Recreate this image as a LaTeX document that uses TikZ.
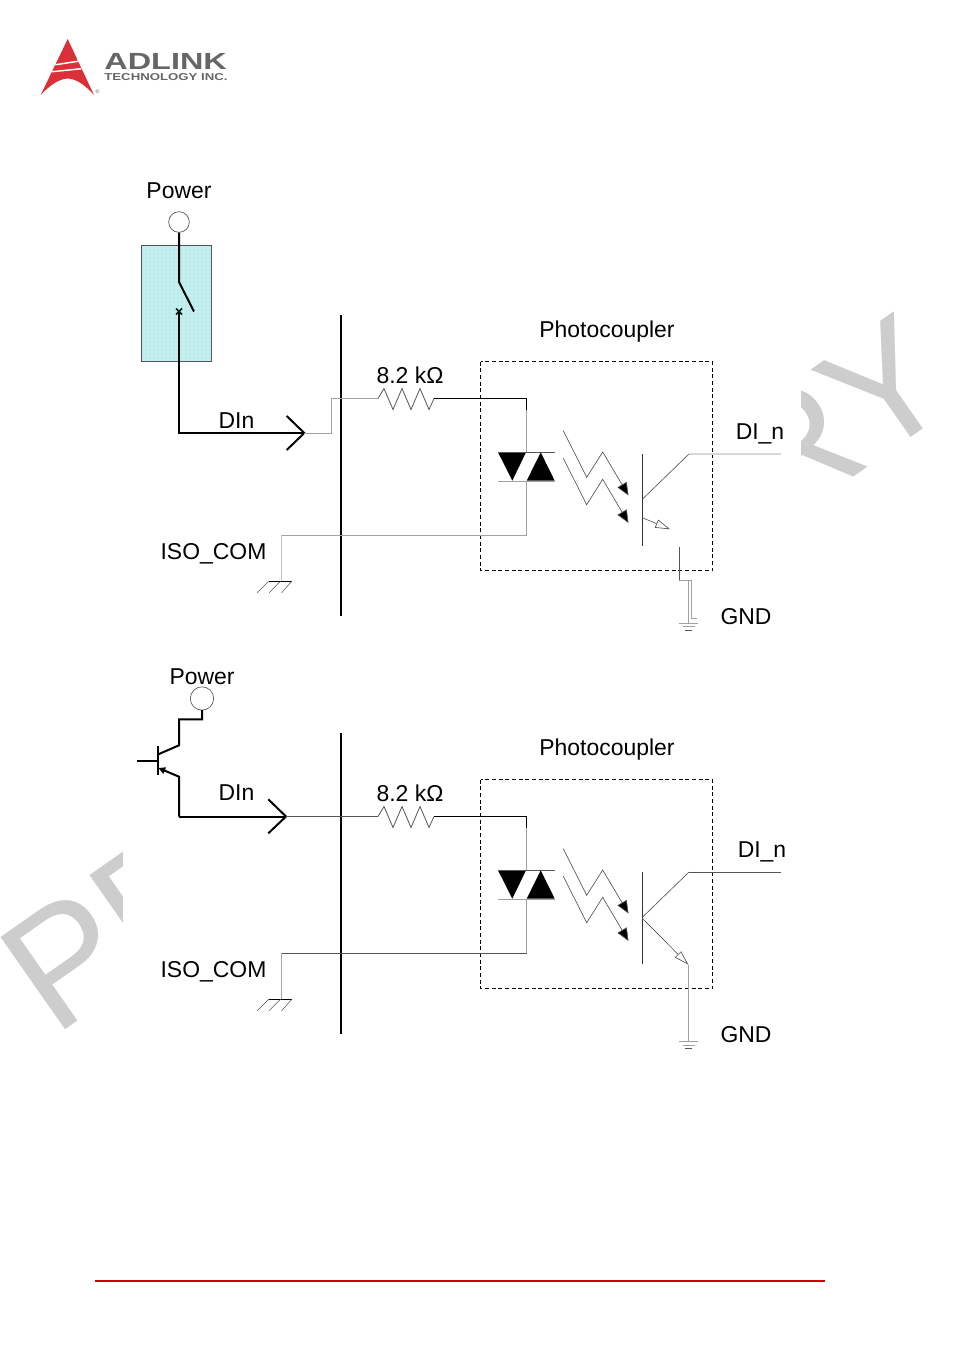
\documentclass[tikz,border=0pt]{standalone}
\usepackage{fontspec}
\setmainfont{Liberation Sans}
\usetikzlibrary{arrows.meta}
\usetikzlibrary{patterns}
\definecolor{wireGrey}{HTML}{A0A0A0}
\definecolor{wireDark}{HTML}{555555}
\definecolor{wireLight}{HTML}{D8D8D8}
\definecolor{switchFill}{HTML}{BCECEC}
\definecolor{logoRed}{HTML}{DA3138}
\definecolor{logoGrey}{HTML}{666666}
\definecolor{stampGrey}{HTML}{CDCDCD}
\begin{document}
\begin{tikzpicture}[x=0.75pt,y=-0.75pt]
        % Define styles for shapes
        \tikzstyle{lbl} = [font=\fontsize{17.2}{20}\selectfont, inner sep=0pt, anchor=base]
        \tikzstyle{stamptext} = [font=\fontsize{122.8}{122.8}\selectfont, text=stampGrey, inner sep=0pt, rotate=35]
        \tikzstyle{thickwire} = [line width=1.5pt, line join=miter]
        \tikzstyle{thinwire} = [line width=0.6pt]
        \tikzstyle{chevron} = [line width=1.5pt]
        \tikzstyle{pin} = [draw=wireDark, circle, line width=0.5pt, inner sep=0pt]
        \tikzstyle{light} = [line width=0.5pt, wireDark, -{Triangle[length=9.5pt,width=8pt,fill=black]}]
        \tikzstyle{emit} = [line width=0.5pt, wireDark, -{Triangle[open,length=11pt,width=6.5pt]}]
        \useasboundingbox (0,0) rectangle (954,1352);
        % Draw stamp at both page sides
        \begin{scope}
            \clip (0,0) rectangle (122,1352);
            \node[stamptext, anchor=base west] (stampL) at (54,1038) {PR};
        \end{scope}
        \begin{scope}
            \clip (801,0) rectangle (954,490);
            \node[stamptext, anchor=base east] (stampR) at (962,402) {RY};
        \end{scope}
        % Draw logo
        \fill[logoRed] (67.7,39) -- (94,95) .. controls (84,84) and (76,79) .. (67.7,78.5) .. controls (59,79) and (50,85) .. (40.7,95) -- cycle;
        \fill[white] (55.5,64) -- (78,60.5) -- (78.5,62) -- (55,65.5) -- cycle;
        \fill[white] (52,71) -- (81,68) -- (81.5,69.5) -- (51.5,72.5) -- cycle;
        \node[font=\fontsize{4}{4}\selectfont, text=logoGrey, inner sep=0pt] (mark) at (97.5,92) {®};
        \node[font=\bfseries\fontsize{17.5}{18}\selectfont, text=logoGrey, inner sep=0pt, anchor=base west, xscale=1.39] (adlink) at (104,70) {ADLINK};
        \node[font=\bfseries\fontsize{7.5}{8}\selectfont, text=logoGrey, inner sep=0pt, anchor=base west, xscale=1.32] (tech) at (104,80.5) {TECHNOLOGY INC.};
        % Draw parts common to both circuits
        \foreach \n/\dy/\col/\dix in {a/0/wireGrey/760, b/418/wireDark/762} {
            \begin{scope}[yshift={-\dy*0.75pt}]
                \node[lbl] (photo\n) at (607,337) {Photocoupler};
                \node[lbl] (res\n) at (410,383) {8.2 kΩ};
                \node[lbl] (iso\n) at (213.5,559) {ISO\_COM};
                \node[lbl] (gnd\n) at (746,624) {GND};
                \node[lbl] (di\n) at (\dix,439) {DI\_n};
                \draw[line width=1.5pt] (340.5,315) -- (340.5,616);
                \draw[densely dashed, line width=0.6pt] (480.5,361.5) rectangle (712.5,570.5);
                \coordinate (resL\n) at (378,398.5);
                \coordinate (resR\n) at (434,398.5);
                \coordinate (acT\n) at (526.5,398.5);
                \coordinate (acU\n) at (526.5,410);
                \coordinate (acD\n) at (526.5,452);
                \coordinate (acE\n) at (526.5,481);
                \coordinate (acB\n) at (526.5,535);
                \coordinate (comT\n) at (281,535);
                \coordinate (comB\n) at (281,581);
                % resistor
                \draw[thinwire, wireDark] (resL\n) -- ++(6,-10) -- ++(9,21) -- ++(9,-21) -- ++(9,21) -- ++(9,-21) -- ++(9,21) -- (resR\n);
                \draw[thinwire, black] (resR\n) -- (acT\n) -- (acU\n);
                \draw[thinwire, wireGrey] (acU\n) -- (acD\n);
                % diodes
                \fill (498,452.3) -- (526,452.3) -- (512.3,480.7) -- cycle;
                \fill (526.7,480.7) -- (554.7,480.7) -- (540.7,452.3) -- cycle;
                \draw[thinwire, wireDark] (498,452.3) -- (554.7,452.3);
                \draw[thinwire, wireGrey] (498,481) -- (554.7,481);
                \draw[thinwire, wireGrey] (acE\n) -- (acB\n);
                \draw[thinwire, \col] (acB\n) -- (comT\n);
                \draw[thinwire, wireLight!60!\col] (comT\n) -- (comB\n);
                % ground hatch
                \draw[line width=0.4pt] (269,581) -- (292,581);
                \draw[line width=0.4pt, wireDark] (292,581) -- (281.6,592.7) (280.7,581) -- (269,592.7) (269,581) -- (257.3,592.7);
                % light arrows
                \draw[light] (563.3,430.7) -- (586.7,477.3) -- (602.7,452) -- (628.5,495.5);
                \draw[light] (563.3,458.3) -- (586.7,504.7) -- (602.7,479.3) -- (628.5,523);
                % output transistor
                \coordinate (barT\n) at (642.5,454);
                \coordinate (barB\n) at (642.5,546);
                \coordinate (colB\n) at (642.3,499.3);
                \coordinate (colT\n) at (689,454);
                \coordinate (outR\n) at (781,454);
                \draw[thinwire, black!80] (barT\n) -- (barB\n);
                \draw[line width=0.5pt, wireDark] (colB\n) -- (colT\n);
            \end{scope}
        }
        % Draw upper circuit
        \node[lbl] (powera) at (179,198) {Power};
        \node[pin, minimum size=15.5pt] (pina) at (179,222) {};
        \node[draw=wireDark, fill=switchFill, postaction={pattern=dots, pattern color=white}, line width=0.5pt, minimum width=52.5pt, minimum height=86.6pt, inner sep=0pt] (boxa) at (176.5,303.2) {};
        \coordinate (hingea) at (179,282);
        \coordinate (conta) at (194,311.5);
        \coordinate (fixa) at (179,311.5);
        \coordinate (corna) at (179,433);
        \coordinate (tipa) at (304.3,433);
        \coordinate (stepa) at (331.5,433);
        \coordinate (stepb) at (331.5,398.5);
        \node[lbl] (dina) at (236.5,428) {DIn};
        \draw[thickwire] (pina) -- (hingea) -- (conta);
        \draw[thickwire] (fixa) -- (corna) -- (tipa);
        \draw[line width=1.2pt, black!80!teal] (176,308.5) -- (182,314.5) (182,308.5) -- (176,314.5);
        \draw[chevron] (286.7,416) -- (tipa) -- (286.7,450);
        \draw[thinwire, wireGrey] (tipa) -- (stepa) -- (stepb) -- (resLa);
        \draw[line width=0.8pt, wireLight] (colTa) -- (outRa);
        \coordinate (emitA) at (642.3,517.7);
        \coordinate (emitB) at (670,529.3);
        \draw[emit] (emitA) -- (emitB);
        \coordinate (gndTa) at (679.3,546.7);
        \coordinate (gndMa) at (679.3,580.7);
        \coordinate (gndNa) at (691.7,580.7);
        \coordinate (gndOa) at (688.3,580.7);
        \coordinate (gndPa) at (688.3,623);
        \coordinate (gndQa) at (691.7,618.3);
        \coordinate (gndRa) at (697,618.3);
        \draw[thinwire, wireDark] (gndTa) -- (gndMa);
        \draw[thinwire, wireGrey] (gndMa) -- (gndNa) -- (gndQa) -- (gndRa);
        \draw[thinwire, wireGrey] (gndOa) -- (gndPa);
        \draw[thinwire, wireGrey] (679.3,623.3) -- (698.3,623.3) (682.5,626.7) -- (695,626.7);
        \draw[thinwire, wireDark] (685,630) -- (692,630);
        % Draw lower circuit
        \node[lbl] (powerb) at (202,684) {Power};
        \node[pin, minimum size=17.5pt] (pinb) at (202,698.5) {};
        \node[lbl] (dinb) at (236.5,800) {DIn};
        \coordinate (riseb) at (202,719.3);
        \coordinate (kneeb) at (179,719.3);
        \coordinate (colb) at (179,745.3);
        \coordinate (colc) at (158.3,754.3);
        \coordinate (baseL) at (136.7,760.7);
        \coordinate (baseR) at (157.7,760.7);
        \coordinate (emib) at (179,776.7);
        \coordinate (emic) at (158.5,768);
        \coordinate (cornb) at (179,816.5);
        \coordinate (tipb) at (286,816.5);
        \draw[thinwire, black] (pinb) -- (202,710);
        \draw[thickwire] (202,710) -- (riseb) -- (kneeb) -- (colb) -- (colc);
        \draw[line width=1.5pt] (157.7,746) -- (157.7,775);
        \draw[thickwire] (baseL) -- (baseR);
        \draw[thickwire, -{Triangle[length=5pt,width=5pt]}] (cornb) -- (emib) -- (emic);
        \draw[thickwire] (cornb) -- (tipb);
        \draw[chevron] (268.3,799.3) -- (tipb) -- (268.3,833.3);
        \draw[thinwire, wireDark] (tipb) -- (resLb);
        \draw[thinwire, wireDark] (colTb) -- (outRb);
        \coordinate (emitC) at (642.3,918.3);
        \coordinate (emitD) at (688.3,964.7);
        \coordinate (gndTb) at (688.3,1041.7);
        \draw[emit] (emitC) -- (emitD);
        \draw[thinwire, wireGrey] (emitD) -- (gndTb);
        \draw[thinwire, wireGrey] (679.3,1041.7) -- (698.3,1041.7) (682.5,1045) -- (695,1045);
        \draw[thinwire, wireDark] (685,1048.3) -- (692,1048.3);
        % Draw footer rule
        \coordinate (ruleL) at (95,1280.5);
        \coordinate (ruleR) at (825,1280.5);
        \draw[line width=1.5pt, red!80!black] (ruleL) -- (ruleR);
\end{tikzpicture}
\end{document}
